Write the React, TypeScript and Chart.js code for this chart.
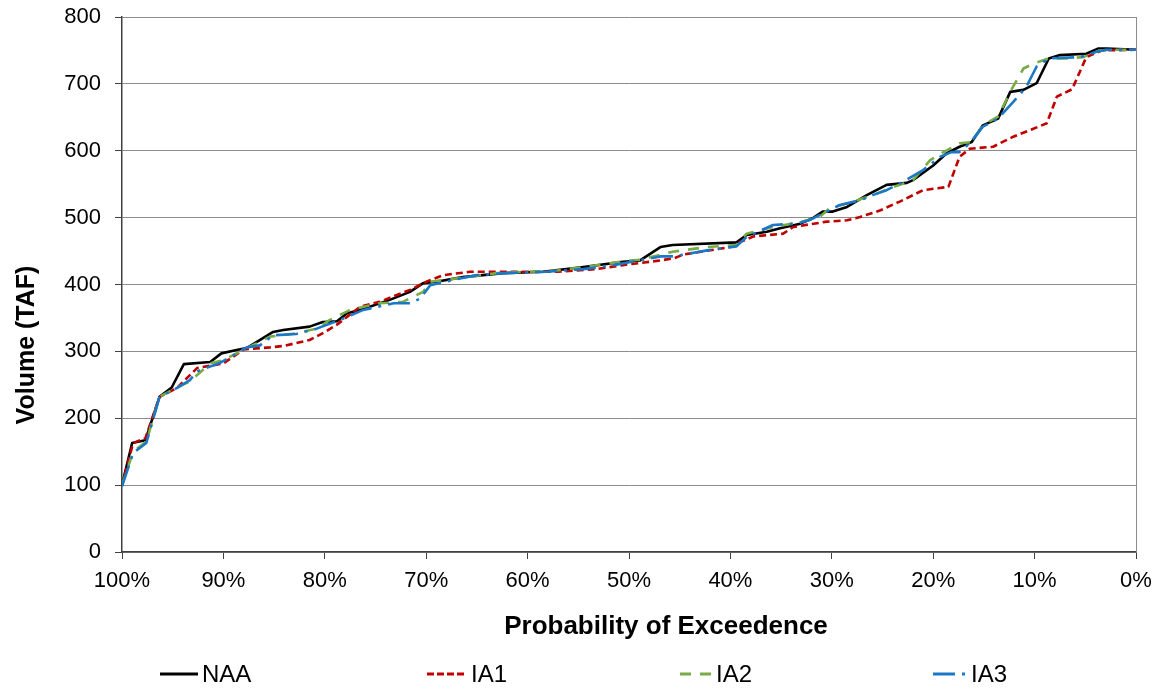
import React, { useEffect, useRef } from 'react';
import { Chart, registerables } from 'chart.js';

Chart.register(...registerables);

// ---- data (probability of exceedence %, volume TAF) ----
const naaP = [100, 99.0, 97.7, 96.3, 95.1, 93.9, 91.3, 90.2, 88.7, 87.7, 85.1, 84.1, 81.5, 80.2, 78.8, 77.8, 76.5, 73.6, 71.6, 70.3, 69.0, 66.4, 62.4, 58.5, 54.5, 50.6, 48.9, 46.9, 45.7, 39.4, 38.4, 36.4, 35.1, 33.1, 31.9, 30.9, 29.9, 28.5, 26.5, 24.6, 22.6, 22.0, 20.0, 18.7, 17.4, 16.2, 15.1, 13.6, 12.4, 11.1, 9.8, 8.6, 7.5, 4.9, 3.7, 2.9, 0];
const naaV = [100, 163, 167, 232, 246, 281, 284, 297, 302, 305, 329, 332, 337, 344, 345, 357, 362, 377, 389, 402, 404, 411, 417, 419, 426, 434, 436, 456, 459, 463, 474, 479, 484, 491, 499, 509, 509, 516, 534, 549, 552, 556, 578, 596, 606, 613, 638, 648, 688, 691, 701, 738, 743, 745, 753, 753, 751];

const ia1P = [100, 98.9, 97.7, 96.3, 94.6, 92.6, 90.0, 88.0, 85.4, 84.1, 81.5, 80.1, 78.8, 76.5, 74.6, 71.6, 70.0, 68.3, 65.7, 61.1, 57.1, 53.2, 50.6, 46.9, 45.6, 44.6, 40.0, 39.0, 37.7, 34.8, 33.8, 30.5, 28.5, 27.2, 25.2, 23.3, 21.0, 18.5, 17.4, 16.4, 14.1, 12.1, 8.8, 7.8, 6.3, 4.9, 3.4, 0];
const ia1V = [100, 163, 170, 232, 245, 275, 282, 303, 306, 308, 317, 328, 340, 367, 374, 392, 404, 414, 419, 419, 419, 423, 429, 436, 439, 445, 456, 464, 472, 476, 486, 494, 496, 501, 511, 524, 541, 546, 591, 603, 606, 621, 641, 681, 692, 740, 750, 751];

const ia2P = [100, 98.9, 97.6, 96.3, 94.6, 93.3, 91.3, 90.0, 87.7, 85.4, 82.8, 80.8, 79.5, 77.5, 74.6, 72.3, 70.3, 69.6, 63.0, 57.1, 54.5, 49.9, 48.9, 45.7, 42.3, 39.4, 38.4, 35.8, 33.5, 31.2, 30.2, 28.5, 25.9, 23.9, 22.0, 20.3, 19.2, 17.4, 16.2, 15.1, 13.6, 12.3, 11.1, 10.0, 8.6, 6.8, 5.2, 3.6, 2.3, 0];
const ia2V = [100, 150, 165, 232, 246, 255, 282, 287, 305, 322, 327, 334, 347, 362, 372, 374, 389, 404, 417, 421, 426, 436, 437, 449, 456, 459, 476, 486, 492, 501, 514, 521, 534, 546, 556, 586, 596, 611, 613, 638, 651, 691, 723, 731, 738, 738, 740, 750, 751, 751];

const ia3P = [100, 98.9, 97.6, 96.3, 94.6, 93.3, 92.6, 90.3, 87.7, 86.4, 85.1, 82.8, 80.8, 78.5, 76.2, 73.2, 71.6, 70.6, 70.1, 69.6, 67.3, 65.0, 62.4, 58.1, 54.5, 51.5, 46.9, 45.6, 42.3, 39.4, 38.4, 35.8, 33.5, 32.1, 30.5, 29.2, 27.2, 25.9, 24.6, 23.3, 21.0, 19.3, 18.2, 17.4, 16.4, 15.1, 13.6, 12.1, 10.8, 9.8, 8.6, 5.5, 3.9, 2.9, 0];
const ia3V = [98, 148, 163, 232, 245, 257, 270, 283, 306, 309, 324, 326, 334, 347, 362, 372, 372, 379, 389, 399, 407, 414, 417, 419, 423, 429, 442, 442, 451, 457, 471, 489, 491, 497, 509, 519, 526, 534, 541, 551, 571, 591, 598, 598, 611, 636, 648, 673, 696, 726, 738, 740, 748, 751, 751];

const seriesNames = ['NAA', 'IA1', 'IA2', 'IA3'];
const seriesP = [naaP, ia1P, ia2P, ia3P];
const seriesV = [naaV, ia1V, ia2V, ia3V];

const xAxisMin = 0;
const xAxisMax = 100;
const xAxisStep = 10;
const yAxisMin = 0;
const yAxisMax = 800;
const yAxisStep = 100;
const xTitle = 'Probability of Exceedence';
const yTitle = 'Volume (TAF)';

// ---- styles ----
const seriesColors = ['#000000', '#c00000', '#77ac46', '#1a78c6'];
const seriesDash: number[][] = [[], [7, 4], [11, 9], [22, 7, 3, 7]];
const legendDash: number[][] = [[], [7, 3], [11, 9], [22, 7, 3, 7]];
const FONT = '"Liberation Sans", Arial, Helvetica, sans-serif';

const zip = (p: number[], v: number[]) => {
  const n = Math.min(p.length, v.length);
  const out: { x: number; y: number }[] = [];
  for (let i = 0; i < n; i++) out.push({ x: p[i], y: v[i] });
  return out;
};

const decorations = {
  id: 'decorations',
  afterDraw(chart: any) {
    const { ctx, chartArea } = chart;
    ctx.save();
    // plot area right border
    ctx.strokeStyle = '#8c8c8c';
    ctx.lineWidth = 1;
    ctx.setLineDash([]);
    ctx.beginPath();
    ctx.moveTo(Math.round(chartArea.right) + 0.5, chartArea.top);
    ctx.lineTo(Math.round(chartArea.right) + 0.5, chartArea.bottom);
    ctx.stroke();

    // axis titles
    ctx.fillStyle = '#000';
    ctx.textAlign = 'center';
    ctx.textBaseline = 'middle';
    ctx.font = `bold 26px ${FONT}`;
    ctx.fillText(xTitle, 666, 627);
    ctx.save();
    ctx.translate(27, 345);
    ctx.rotate(-Math.PI / 2);
    ctx.font = `bold 25px ${FONT}`;
    ctx.fillText(yTitle, 0, 0);
    ctx.restore();

    // legend
    const starts = [160, 427, 680, 933];
    const lens = [38, 40, 32, 34];
    const ly = 674;
    ctx.font = `24px ${FONT}`;
    ctx.textAlign = 'left';
    for (let i = 0; i < seriesNames.length; i++) {
      const x0 = starts[i];
      ctx.strokeStyle = seriesColors[i];
      ctx.lineWidth = 3;
      ctx.setLineDash(legendDash[i]);
      ctx.beginPath();
      ctx.moveTo(x0, ly);
      ctx.lineTo(x0 + lens[i], ly);
      ctx.stroke();
      ctx.setLineDash([]);
      ctx.fillStyle = '#000';
      ctx.fillText(seriesNames[i], x0 + lens[i] + 4, ly + 1);
    }
    ctx.restore();
  },
};

export default function App() {
  const ref = useRef<HTMLCanvasElement | null>(null);

  useEffect(() => {
    if (!ref.current) return;
    const datasets = seriesNames.map((name, i) => ({
      label: name,
      data: zip(seriesP[i], seriesV[i]),
      borderColor: seriesColors[i],
      backgroundColor: seriesColors[i],
      borderWidth: 2.6,
      borderDash: seriesDash[i],
      borderCapStyle: 'butt' as const,
      borderJoinStyle: 'round' as const,
      pointRadius: 0,
      tension: 0,
      fill: false,
      order: seriesNames.length - i,
    }));

    const chart = new Chart(ref.current, {
      type: 'line',
      data: { datasets },
      plugins: [decorations],
      options: {
        animation: false,
        responsive: false,
        layout: { padding: { left: 0, right: 25, top: 17, bottom: 0 } },
        plugins: {
          legend: { display: false },
          tooltip: { enabled: false },
        },
        scales: {
          x: {
            type: 'linear',
            min: xAxisMin,
            max: xAxisMax,
            reverse: true,
            afterFit: (s: any) => {
              s.height = 138;
              s.paddingLeft = 0;
              s.paddingRight = 0;
            },
            ticks: {
              stepSize: xAxisStep,
              color: '#000',
              font: { family: FONT, size: 22 },
              padding: 9,
              maxRotation: 0,
              autoSkip: false,
              callback: (v: any) => `${v}%`,
            },
            grid: {
              drawOnChartArea: false,
              drawTicks: true,
              tickLength: 7,
              tickColor: '#404040',
              color: '#404040',
            },
            border: { color: '#404040', width: 1.5 },
          },
          y: {
            type: 'linear',
            min: yAxisMin,
            max: yAxisMax,
            afterFit: (s: any) => {
              s.width = 122;
              s.paddingTop = 0;
              s.paddingBottom = 0;
            },
            ticks: {
              stepSize: yAxisStep,
              color: '#000',
              font: { family: FONT, size: 22 },
              padding: 14,
            },
            grid: {
              color: '#8c8c8c',
              lineWidth: 1,
              tickLength: 7,
              tickColor: '#404040',
            },
            border: { color: '#404040', width: 1.5 },
          },
        },
      },
    });
    return () => chart.destroy();
  }, []);

  return (
    <div style={{ position: 'fixed', left: 0, top: 0, width: 1161, height: 690, background: '#fff' }}>
      <canvas ref={ref} width={1161} height={690} />
    </div>
  );
}
